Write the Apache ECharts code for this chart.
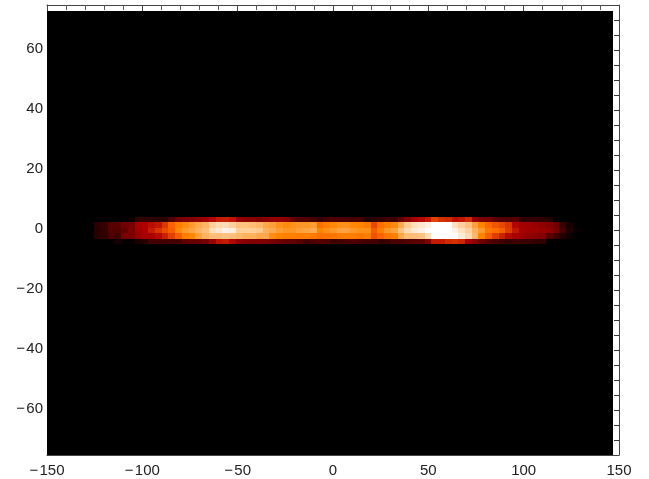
<!DOCTYPE html>
<html>
<head>
<meta charset="utf-8">
<style>html,body{margin:0;padding:0;background:#fff}#c{width:649px;height:479px}</style>
<script src="https://cdn.jsdelivr.net/npm/echarts@6/dist/echarts.min.js"></script>
</head>
<body>
<div id="c"></div>
<script>
var xTickLabels = [-150,-100,-50,0,50,100,150];
var yTickLabels = [-60,-40,-20,0,20,40,60];
var yMinorTicks = [-70,-65,-60,-55,-50,-45,-40,-35,-30,-25,-20,-15,-10,-5,0,5,10,15,20,25,30,35,40,45,50,55,60,65,70];
var imageExtent = [-150,147,-75,73];
var firstColumn = 7, columnWidth = 3.536, firstRowTop = 4.33, rowHeight = 1.8;
var row1 = [0,0,0,0,0,10,34,34,32,32,28,56,78,88,94,100,110,124,134,136,130,100,94,94,88,94,100,100,94,68,56,56,48,34,48,54,52,52,48,46,22,32,34,44,40,66,94,114,124,134,156,146,142,128,132,142,104,84,84,62,58,54,62,30,34,34,32,26,0,0,0,0];
var row2 = [30,40,60,62,78,82,115,120,127,132,150,172,188,194,202,210,216,230,236,236,230,222,222,220,216,208,204,197,193,196,200,200,203,178,187,192,196,196,192,190,185,158,177,187,193,210,228,238,243,248,255,255,255,238,230,222,205,190,174,166,158,148,122,112,109,104,99,89,74,36,16,0];
var row3 = [28,38,60,60,70,88,110,118,135,148,160,170,192,202,207,215,221,238,243,248,246,229,229,229,226,213,210,203,199,200,205,207,210,190,196,200,206,206,200,196,196,170,187,200,207,222,236,244,248,255,255,255,255,248,238,230,213,202,184,178,170,152,132,114,109,109,106,99,79,46,20,6];
var row4 = [28,35,55,45,85,85,105,115,118,125,138,155,170,188,192,205,215,221,221,223,221,217,213,213,209,209,194,190,188,188,186,188,184,178,180,182,186,186,186,183,186,163,173,183,188,209,220,221,223,238,255,255,255,255,244,236,217,190,170,153,138,125,115,106,99,94,89,60,46,22,10,0];
var row5 = [0,0,0,15,5,5,18,26,46,48,48,50,48,66,72,72,82,108,130,134,122,98,92,88,90,88,82,74,68,66,60,46,54,60,56,42,46,50,54,50,46,48,34,40,50,50,56,62,66,92,134,134,142,146,140,112,96,76,60,50,40,36,46,42,40,34,34,0,0,0,0,0];
var rows = [row1,row2,row3,row4,row5];

function redTemperature(v){
  var r = Math.min(255, v*255/175);
  var g = Math.max(0, (v-120)*255/135);
  var b = Math.max(0, (v-190)*255/65);
  return 'rgb('+Math.round(r)+','+Math.round(g)+','+Math.round(b)+')';
}
var cells = [];
rows.forEach(function(row,k){
  row.forEach(function(v,i){
    if(v>0){
      var x0 = imageExtent[0]+(firstColumn+i)*columnWidth;
      var y1 = firstRowTop-k*rowHeight;
      cells.push([x0,x0+columnWidth,y1-rowHeight,y1,v]);
    }
  });
});
function renderRect(params,api){
  var a = api.coord([api.value(0),api.value(3)]);
  var b = api.coord([api.value(1),api.value(2)]);
  var x = Math.round(a[0]), y = Math.round(a[1]);
  return {type:'rect',shape:{x:x,y:y,width:Math.round(b[0])-x,height:Math.round(b[1])-y},
    style:{fill:redTemperature(api.value(4))}};
}
var ink = '#222', axisCol = '#444';
var fmt = function(v){ return String(v).replace('-','\u2212\u200a'); };
var labelStyle = {color:ink,fontFamily:'Liberation Sans',fontSize:15,formatter:fmt};
var lineStyle = {lineStyle:{color:axisCol,width:1}};
var chart = echarts.init(document.getElementById('c'),null,{renderer:'canvas'});
chart.setOption({
  animation:false,
  backgroundColor:'#fff',
  grid:{left:47,right:30,top:5,bottom:24},
  xAxis:[
    {type:'value',min:-150,max:150,interval:50,position:'bottom',splitLine:{show:false},
      axisLine:Object.assign({show:true,onZero:false},lineStyle),axisTick:{show:false},
      axisLabel:Object.assign({margin:8,showMinLabel:true,showMaxLabel:true,customValues:xTickLabels},labelStyle)},
    {type:'value',min:-150,max:150,interval:50,position:'top',splitLine:{show:false},
      axisLine:Object.assign({show:true,onZero:false},lineStyle),
      axisTick:{show:true,inside:true,length:6,lineStyle:{color:axisCol}},
      minorTick:{show:true,splitNumber:5,length:5,lineStyle:{color:'#555'}},
      axisLabel:{show:false}}
  ],
  yAxis:[
    {type:'value',min:-75.4,max:74.6,position:'left',splitLine:{show:false},
      axisLine:Object.assign({show:true,onZero:false},lineStyle),axisTick:{show:false},
      axisLabel:Object.assign({margin:4,customValues:yTickLabels},labelStyle)},
    {type:'value',min:-75,max:75,position:'right',splitLine:{show:false},
      axisLine:Object.assign({show:true,onZero:false},lineStyle),
      axisTick:{show:true,inside:true,length:5,customValues:yMinorTicks,lineStyle:{color:'#333'}},
      axisLabel:{show:false}},
    {type:'value',min:-75,max:75,position:'right',splitLine:{show:false},
      axisLine:{show:false},
      axisTick:{show:true,inside:true,length:7,customValues:yTickLabels,lineStyle:{color:'#333'}},
      axisLabel:{show:false}}
  ],
  series:[
    {type:'custom',silent:true,z:1,coordinateSystem:'cartesian2d',xAxisIndex:0,yAxisIndex:1,renderItem:renderRect,
      encode:{x:[0,1],y:[2,3]},
      data:[[imageExtent[0],imageExtent[1],imageExtent[2],imageExtent[3],0]]},
    {type:'custom',silent:true,z:2,coordinateSystem:'cartesian2d',xAxisIndex:0,yAxisIndex:1,renderItem:renderRect,
      encode:{x:[0,1],y:[2,3]},data:cells}
  ]
});
</script>
</body>
</html>
